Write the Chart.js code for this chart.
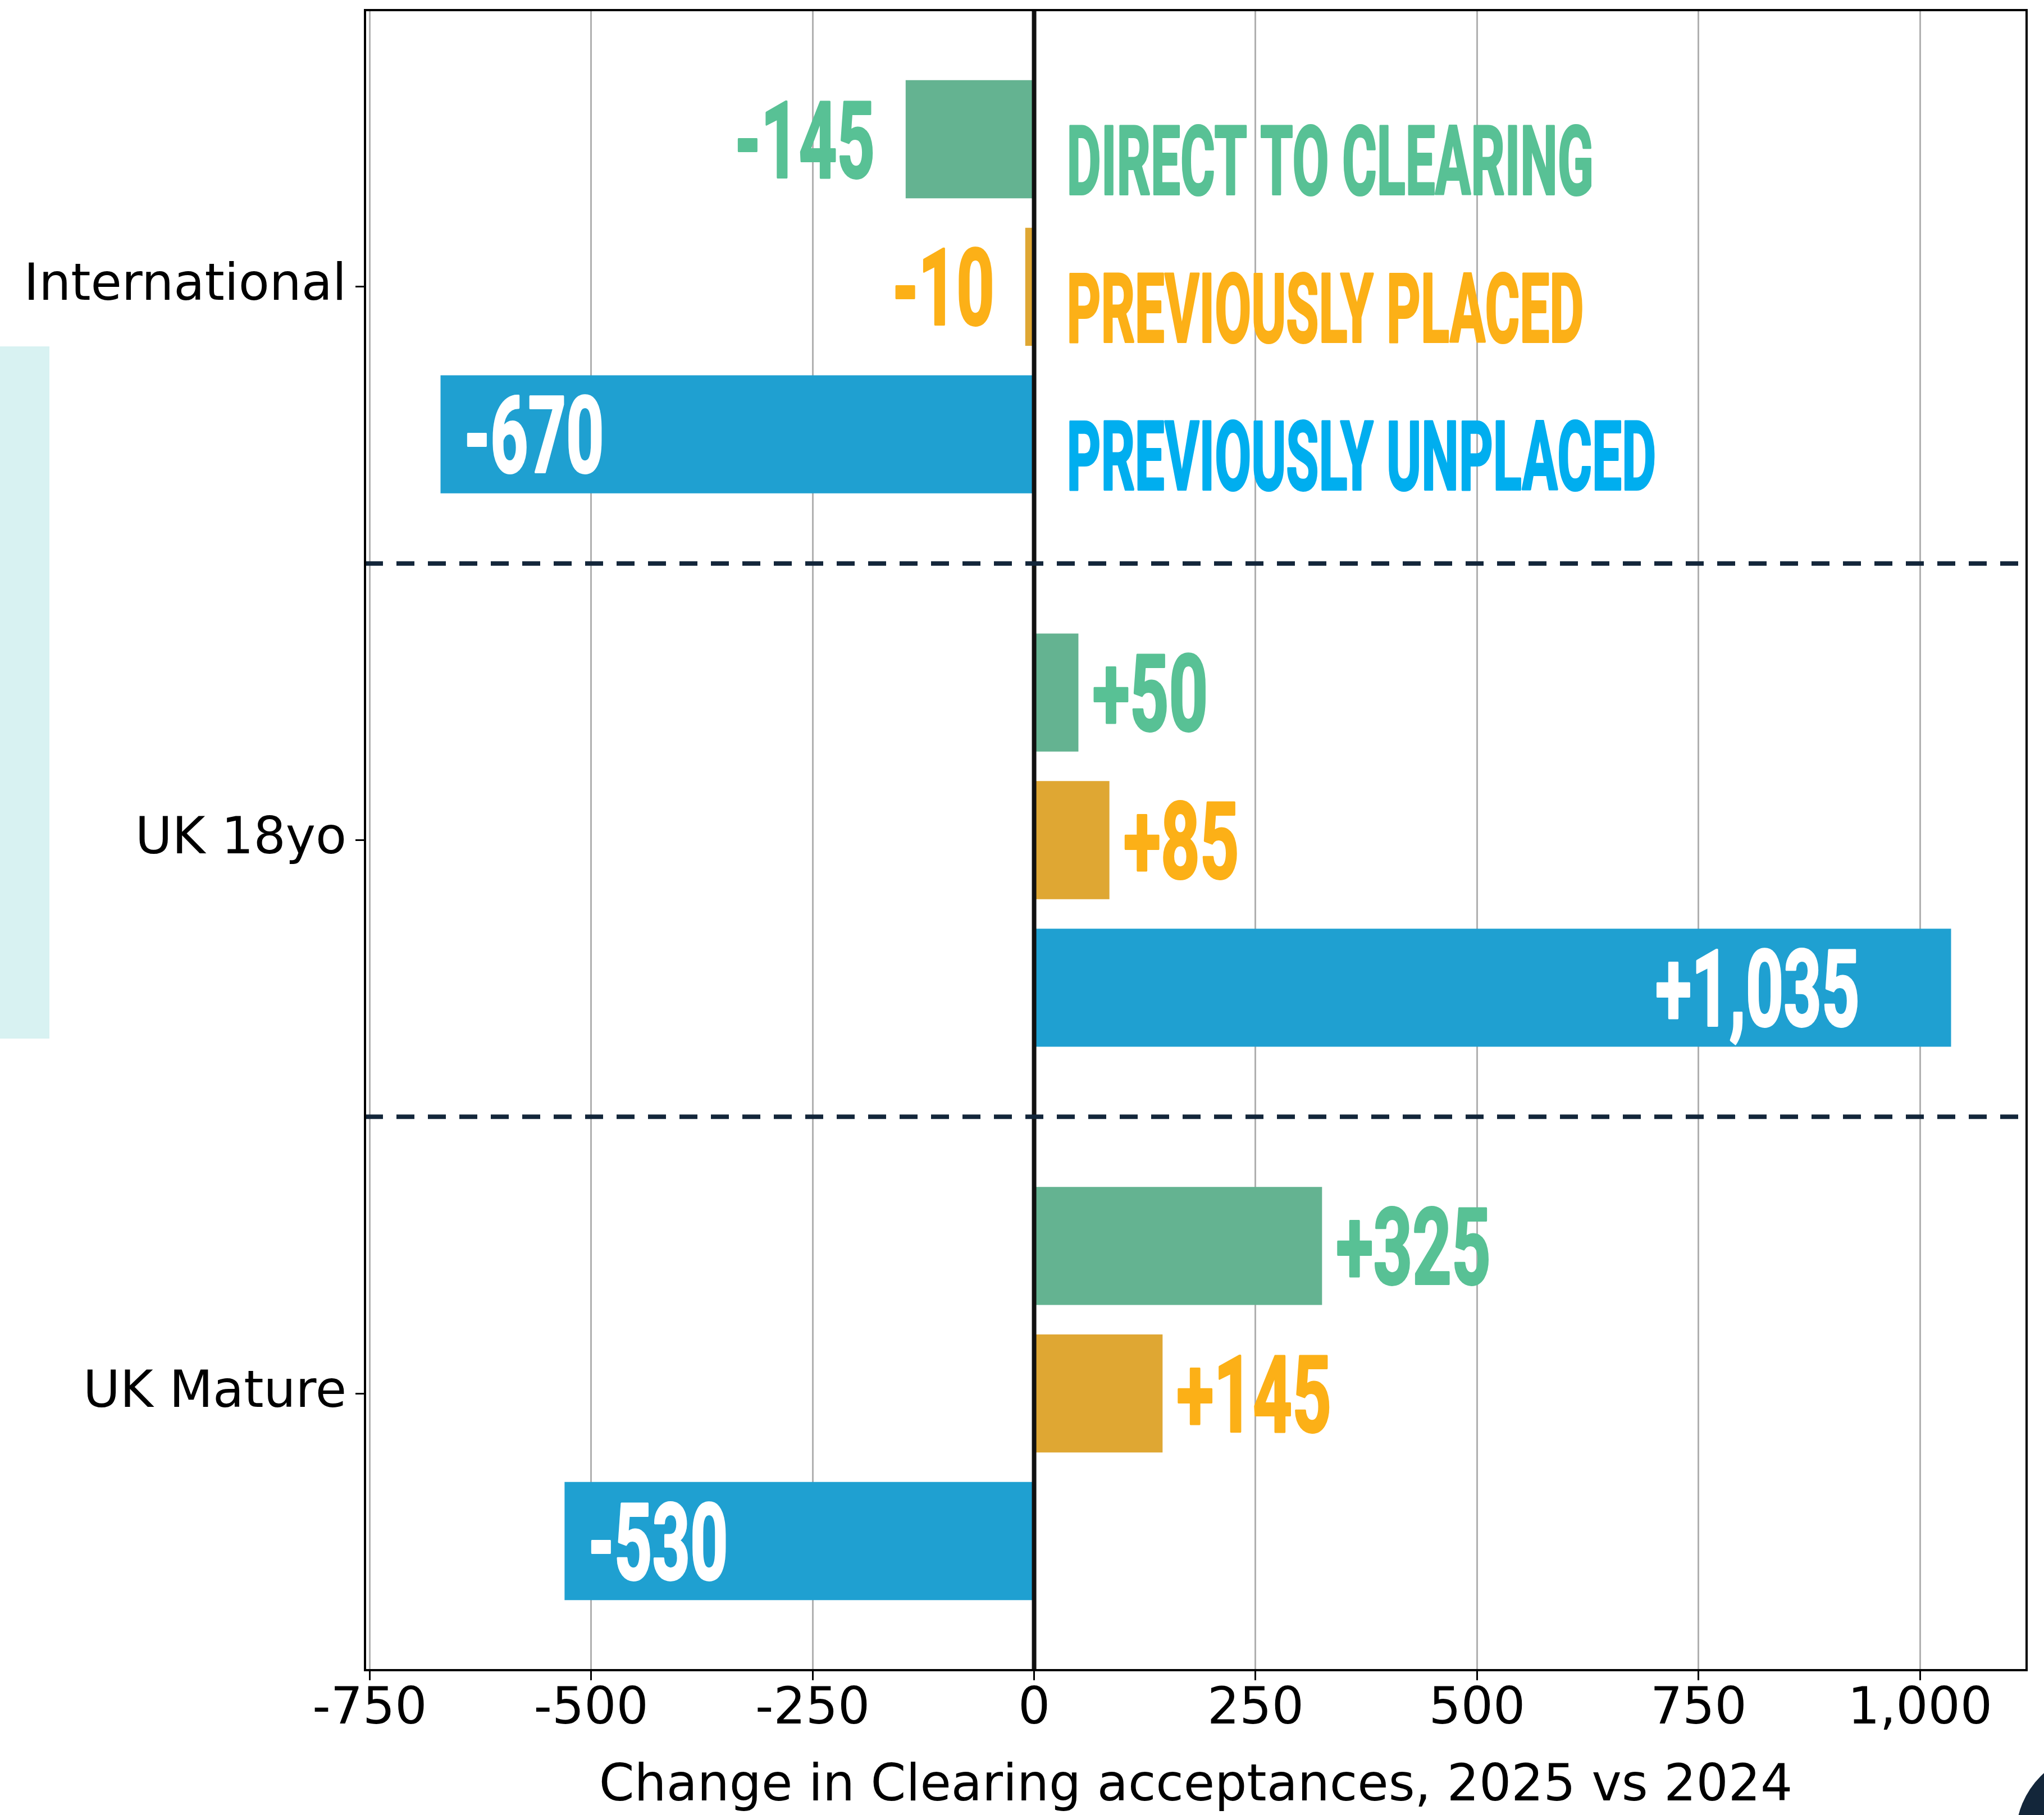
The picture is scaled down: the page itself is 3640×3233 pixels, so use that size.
<!DOCTYPE html>
<html>
<head>
<meta charset="utf-8">
<title>Clearing acceptances change</title>
<script src="https://cdn.jsdelivr.net/npm/chart.js@4.4.1/dist/chart.umd.min.js"></script>
<style>
    html, body { margin: 0; padding: 0; background: #ffffff; }
    #wrap { width: 3640px; height: 3233px; }
</style>
</head>
<body>
<div id="wrap"><canvas id="myChart" width="3640" height="3233"></canvas></div>
<script>
// ----------------------------------------- data -----------------------------------------
const categories = ["International", "UK 18yo", "UK Mature"];
const seriesNames = ["DIRECT TO CLEARING", "PREVIOUSLY PLACED", "PREVIOUSLY UNPLACED"];
const directToClearing = [-145, 50, 325];
const previouslyPlaced = [-10, 85, 145];
const previouslyUnplaced = [-670, 1035, -530];
const xTicks = [-750, -500, -250, 0, 250, 500, 750, 1000];
const xMin = -755.25;
const xMax = 1120.25;
const axisTitle = "Change in Clearing acceptances, 2025 vs 2024";

// ----------------------------------------- styles -----------------------------------------
const barColors = ["#64B391", "#DFA733", "#1FA0D1"];
const textColors = ["#58C195", "#FCB017", "#00AEEF"];
const labelFont = "Roboto";

// ----------------------------------- condensed text helper -----------------------------------
const drawCondensed = (ctx, text, x, baseline, align, size, color, squeeze) => {
    ctx.save();
    ctx.font = `bold ${size}px ${labelFont}`;
    const w = ctx.measureText(text).width * squeeze;
    const left = align === "right" ? x - w : x;
    ctx.translate(left, baseline);
    ctx.scale(squeeze, 1);
    ctx.textAlign = "left";
    ctx.textBaseline = "alphabetic";
    ctx.fillStyle = color;
    ctx.strokeStyle = color;
    ctx.lineWidth = 4;
    ctx.lineJoin = "round";
    ctx.strokeText(text, 0, 0);
    ctx.fillText(text, 0, 0);
    ctx.restore();
};

const formatChange = (v) => (v > 0 ? "+" : "-") + Math.abs(v).toLocaleString("en-US");

// ----------------------------------------- decorations -----------------------------------------
const decorPlugin = {
    id: "decor",
    beforeDraw: (chart) => {
        const ctx = chart.ctx;
        ctx.save();
        ctx.fillStyle = "#ffffff";
        ctx.fillRect(0, 0, chart.width, chart.height);
        ctx.fillStyle = "#D8F2F2";
        ctx.fillRect(0, 617, 88, 1233);
        ctx.restore();
    },
    afterDatasetsDraw: (chart) => {
        const ctx = chart.ctx;
        const area = chart.chartArea;
        const x = chart.scales.x;
        const y = chart.scales.y;

        // zero line
        const x0 = x.getPixelForValue(0);
        ctx.save();
        ctx.strokeStyle = "#111111";
        ctx.lineWidth = 8;
        ctx.beginPath();
        ctx.moveTo(x0, area.top);
        ctx.lineTo(x0, area.bottom);
        ctx.stroke();

        // dashed separators between groups
        ctx.strokeStyle = "#13263A";
        ctx.lineWidth = 8;
        ctx.setLineDash([32, 24]);
        for (let i = 0; i < categories.length - 1; i++) {
            const yy = y.getPixelForValue(i + 0.5);
            ctx.beginPath();
            ctx.moveTo(area.left, yy);
            ctx.lineTo(area.right, yy);
            ctx.stroke();
        }
        ctx.setLineDash([]);

        // frame
        ctx.strokeStyle = "#000000";
        ctx.lineWidth = 4;
        ctx.strokeRect(area.left, area.top, area.right - area.left, area.bottom - area.top);
        ctx.restore();

        // value labels
        chart.data.datasets.forEach((ds, i) => {
            const meta = chart.getDatasetMeta(i);
            meta.data.forEach((bar, j) => {
                const v = ds.data[j];
                const text = formatChange(v);
                const size = 190;
                const baseline = bar.y + size * 0.711 / 2;
                if (i === 2) {
                    if (v < 0) drawCondensed(ctx, text, bar.x + 42, baseline, "left", size, "#ffffff", 0.62);
                    else drawCondensed(ctx, text, bar.x - 163, baseline, "right", size, "#ffffff", 0.62);
                } else {
                    if (v < 0) drawCondensed(ctx, text, bar.x - 55, baseline, "right", size, textColors[i], 0.62);
                    else drawCondensed(ctx, text, bar.x + 25, baseline, "left", size, textColors[i], 0.64);
                }
            });
        });

        // series names next to the first group
        seriesNames.forEach((name, i) => {
            const bar = chart.getDatasetMeta(i).data[0];
            drawCondensed(ctx, name, x0 + 58, bar.y + 98, "left", 170, textColors[i], 0.555);
        });
    },
    afterDraw: (chart) => {
        const ctx = chart.ctx;
        ctx.save();
        ctx.fillStyle = "#13263A";
        ctx.beginPath();
        ctx.arc(3740, 3270, 150, 0, Math.PI * 2);
        ctx.fill();
        ctx.restore();
    }
};

// ----------------------------------------- chart -----------------------------------------
const datasets = [directToClearing, previouslyPlaced, previouslyUnplaced].map((values, i) => ({
    label: seriesNames[i],
    data: values,
    backgroundColor: barColors[i],
    borderWidth: 0,
    barPercentage: 0.8,
    categoryPercentage: 0.8
}));

const tickFont = { family: "DejaVu Sans", size: 90 };

new Chart(document.getElementById("myChart"), {
    type: "bar",
    data: { labels: categories, datasets: datasets },
    options: {
        indexAxis: "y",
        responsive: false,
        devicePixelRatio: 1,
        animation: false,
        layout: { padding: { top: 18, right: 31, left: 0, bottom: 0 } },
        plugins: { legend: { display: false }, tooltip: { enabled: false } },
        scales: {
            x: {
                type: "linear",
                min: xMin,
                max: xMax,
                afterBuildTicks: (scale) => { scale.ticks = xTicks.map(v => ({ value: v })); },
                afterFit: (scale) => {
                    scale.height = 258;
                    scale.paddingLeft = 0;
                    scale.paddingRight = 0;
                },
                grid: { color: "#b0b0b0", lineWidth: 3, drawTicks: true, tickLength: 18, tickColor: "#000000", tickWidth: 3 },
                border: { display: false },
                ticks: {
                    color: "#000000", font: tickFont, padding: 0, maxRotation: 0, autoSkip: false,
                    callback: (v) => v.toLocaleString("en-US")
                },
                title: {
                    display: true, text: axisTitle, color: "#000000",
                    font: { family: "DejaVu Sans", size: 90, lineHeight: 1.1 },
                    padding: { top: 0, bottom: 0 }
                }
            },
            y: {
                type: "category",
                offset: true,
                afterFit: (scale) => {
                    scale.width = 650;
                    scale.paddingTop = 0;
                    scale.paddingBottom = 0;
                },
                grid: { offset: false, drawOnChartArea: false, drawTicks: true, tickLength: 17, tickColor: "#000000", tickWidth: 3 },
                border: { display: false },
                ticks: { color: "#000000", font: tickFont, padding: 16, autoSkip: false }
            }
        }
    },
    plugins: [decorPlugin]
});
</script>
</body>
</html>
